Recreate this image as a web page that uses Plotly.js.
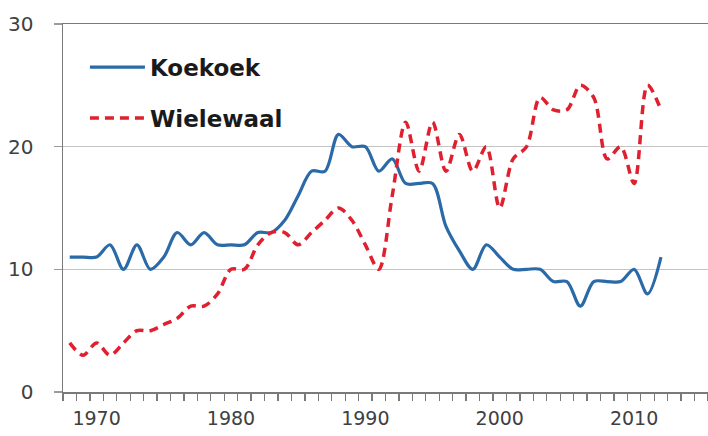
<!DOCTYPE html>
<html>
<head>
<meta charset="utf-8">
<script src="https://cdn.plot.ly/plotly-3.0.1.min.js"></script>
<style>
  html, body { margin: 0; padding: 0; background: #ffffff; }
  #chart { width: 708px; height: 436px; }
</style>
</head>
<body>
<div id="chart"></div>
<script>
var years = [1968,1969,1970,1971,1972,1973,1974,1975,1976,1977,1978,1979,1980,1981,1982,1983,1984,1985,1986,1987,1988,1989,1990,1991,1992,1993,1994,1995,1996,1997,1998,1999,2000,2001,2002,2003,2004,2005,2006,2007,2008,2009,2010,2011,2012];
var koekoek = [11,11,11,12,10,12,10,11,13,12,13,12,12,12,13,13,14,16,18,18,21,20,20,18,19,17,17,17,13.5,11.5,10,12,11,10,10,10,9,9,7,9,9,9,10,8,11];
var wielewaal = [4,3,4,3,4,5,5,5.5,6,7,7,8,10,10,12,13,13,12,13,14,15,14,12,10,16,22,18,22,18,21,18,20,15,19,20,24,23,23,25,24,19,20,17,25,23];
var seriesNames = ["Koekoek", "Wielewaal"];
var xTickYears = [1970, 1980, 1990, 2000, 2010];
var xTickLabels = ["1970", "1980", "1990", "2000", "2010"];
var yTickVals = [0, 10, 20, 30];
var yTickLabels = ["0", "10", "20", "30"];

var traces = [
  {
    x: years, y: koekoek, name: seriesNames[0], type: 'scatter', mode: 'lines',
    line: {color: '#2a6aa8', width: 3.2, shape: 'spline', smoothing: 0.9},
    legendgroup: 'a', xaxis: 'x', yaxis: 'y'
  },
  {
    x: years, y: wielewaal, name: seriesNames[1], type: 'scatter', mode: 'lines',
    line: {color: '#e0202f', width: 3.5, dash: '9px,6px', shape: 'spline', smoothing: 0.9},
    legendgroup: 'b', xaxis: 'x', yaxis: 'y'
  }
];

var tickFont = {family: 'DejaVu Sans', size: 19, color: '#404040'};

var layout = {
  width: 708, height: 436,
  margin: {l: 63, r: 0, t: 24, b: 44, pad: 0},
  paper_bgcolor: '#ffffff', plot_bgcolor: '#ffffff',
  showlegend: true,
  legend: {
    x: 0.034, xanchor: 'left', y: 0.941, yanchor: 'top',
    bgcolor: 'rgba(0,0,0,0)', borderwidth: 0,
    font: {family: 'DejaVu Sans', size: 23, color: '#1a1a1a', weight: 'bold'},
    itemwidth: 55, tracegroupgap: 18
  },
  xaxis: {
    range: [1967.5, 2015.5],
    showgrid: false, zeroline: false,
    showline: true, linecolor: '#7a7a7a', linewidth: 1.5, mirror: true,
    ticks: 'outside', tick0: 1967.5, dtick: 1, ticklen: 7, tickcolor: '#7a7a7a', tickwidth: 1.3,
    showticklabels: false
  },
  xaxis2: {
    overlaying: 'x', anchor: 'y', side: 'bottom',
    range: [1967.5, 2015.5],
    showgrid: false, zeroline: false, showline: false,
    tickmode: 'array', tickvals: xTickYears, ticktext: xTickLabels,
    ticks: '', ticklabelstandoff: 13,
    tickfont: tickFont
  },
  yaxis: {
    range: [0, 30],
    tickmode: 'array', tickvals: yTickVals, ticktext: yTickLabels,
    showgrid: true, gridcolor: '#c4c4c4', gridwidth: 1.3,
    zeroline: false,
    showline: true, linecolor: '#7a7a7a', linewidth: 1.5,
    ticks: 'outside', ticklen: 8, tickcolor: '#9a9a9a', tickwidth: 1.3,
    ticklabelstandoff: 16,
    tickfont: {family: 'DejaVu Sans', size: 20, color: '#404040'}
  }
};

// invisible helper trace so that the label axis (xaxis2) is drawn
traces.push({x: [1970], y: [0], xaxis: 'x2', yaxis: 'y', type: 'scatter', mode: 'markers',
  marker: {opacity: 0}, showlegend: false, hoverinfo: 'skip'});

Plotly.newPlot('chart', traces, layout, {displayModeBar: false, staticPlot: true});
</script>
</body>
</html>
